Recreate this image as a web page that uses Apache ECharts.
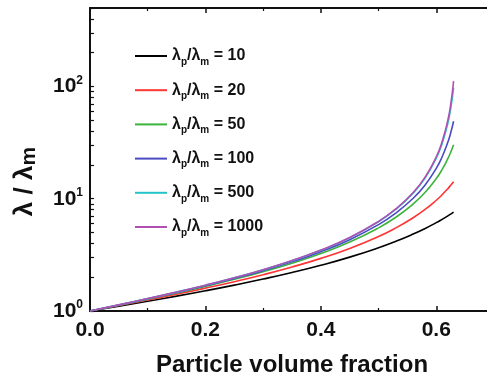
<!DOCTYPE html>
<html>
<head>
<meta charset="utf-8">
<script src="https://cdn.jsdelivr.net/npm/echarts@6/dist/echarts.min.js"></script>
<style>
html,body{margin:0;padding:0;background:#fff;}
#c{width:487px;height:377px;}
</style>
</head>
<body>
<div id="c"></div>
<script>
// Particle volume fraction (x)
var fractions = [0, 0.05, 0.1, 0.15, 0.2, 0.25, 0.3, 0.35, 0.4, 0.45, 0.5, 0.53, 0.56, 0.58, 0.6, 0.61, 0.62, 0.625, 0.63];
// lambda_p / lambda_m ratios (legend)
var ratios = [10, 20, 50, 100, 500, 1000];
// lambda / lambda_m values
var ratio10   = [1, 1.104, 1.222, 1.357, 1.514, 1.701, 1.926, 2.203, 2.556, 3.020, 3.659, 4.175, 4.844, 5.412, 6.122, 6.548, 7.034, 7.303, 7.594];
var ratio20   = [1, 1.118, 1.253, 1.411, 1.598, 1.825, 2.106, 2.465, 2.943, 3.610, 4.613, 5.500, 6.775, 7.986, 9.696, 10.85, 12.29, 13.17, 14.17];
var ratio50   = [1, 1.127, 1.275, 1.449, 1.657, 1.914, 2.239, 2.665, 3.251, 4.111, 5.502, 6.844, 8.985, 11.30, 15.13, 18.18, 22.73, 25.97, 30.26];
var ratio100  = [1, 1.131, 1.283, 1.462, 1.679, 1.947, 2.288, 2.741, 3.371, 4.314, 5.886, 7.461, 10.10, 13.13, 18.66, 23.55, 31.86, 38.64, 49.03];
var ratio500  = [1, 1.134, 1.289, 1.473, 1.697, 1.974, 2.330, 2.805, 3.475, 4.494, 6.238, 8.046, 11.22, 15.11, 22.97, 30.90, 47.05, 63.57, 97.78];
var ratio1000 = [1, 1.134, 1.290, 1.475, 1.699, 1.978, 2.335, 2.814, 3.489, 4.517, 6.285, 8.126, 11.38, 15.40, 23.65, 32.16, 50.04, 69.16, 111.7];
var seriesValues = [ratio10, ratio20, ratio50, ratio100, ratio500, ratio1000];
var colors = ['#000000', '#ff3434', '#3cb43c', '#4a4ac4', '#22c4c8', '#b050b4'];
// axis ticks
var xTicks = [0, 0.2, 0.4, 0.6];
var yDecades = [1, 10, 100];
var yTickValues = [1,2,3,4,5,6,7,8,9,10,20,30,40,50,60,70,80,90,100,200,300,400,500];
var xName = 'Particle volume fraction';

var FONT = '"Liberation Sans", Arial, sans-serif';
var chart = echarts.init(document.getElementById('c'), null, {renderer: 'canvas'});

var series = ratios.map(function (r, i) {
  return {
    name: 'λp/λm = ' + r,
    type: 'line',
    symbol: 'none',
    smooth: true,
    color: colors[i],
    lineStyle: {width: 1.6, color: colors[i]},
    data: fractions.map(function (f, j) { return [f, seriesValues[i][j]]; }),
    z: 2 + i
  };
});

var option = {
  backgroundColor: '#ffffff',
  animation: false,
  grid: {left: 90, top: 8, right: -7, bottom: 66, outerBoundsMode: 'none', containLabel: false},
  legend: {
    orient: 'vertical',
    left: 135,
    top: 48,
    padding: 0,
    icon: 'path://M0 0H32V2H0Z',
    itemWidth: 32,
    itemHeight: 2,
    itemGap: 15.2,
    data: series.map(function (s) { return s.name; }),
    formatter: function (name) {
      var v = name.split('= ')[1];
      return '{t|λ}{s|p}{t|/λ}{s|m}{t| = ' + v + '}';
    },
    textStyle: {
      fontFamily: FONT,
      fontWeight: 'bold',
      color: '#111',
      padding: [0, 0, 0, 0],
      rich: {
        t: {fontFamily: FONT, fontWeight: 'bold', fontSize: 16, color: '#111', lineHeight: 22, verticalAlign: 'middle'},
        s: {fontFamily: FONT, fontWeight: 'bold', fontSize: 10, color: '#111', lineHeight: 10, verticalAlign: 'bottom'}
      }
    }
  },
  xAxis: [{
    type: 'value',
    min: 0,
    max: 0.7,
    interval: 0.2,
    name: xName,
    nameLocation: 'middle',
    nameGap: 42,
    nameTextStyle: {fontFamily: FONT, fontWeight: 'bold', fontSize: 24, color: '#111'},
    axisLine: {lineStyle: {color: '#111', width: 2}},
    axisTick: {inside: true, length: 5, lineStyle: {color: '#111', width: 1.5}, customValues: xTicks},
    minorTick: {show: true, splitNumber: 2, length: 3, lineStyle: {color: '#111', width: 1.2}},
    splitLine: {show: false},
    minorSplitLine: {show: false},
    axisLabel: {
      customValues: xTicks,
      margin: 9,
      fontFamily: FONT, fontWeight: 'bold', fontSize: 21, color: '#111',
      formatter: function (v) { return v.toFixed(1); }
    }
  }, {
    type: 'value',
    position: 'top',
    min: 0,
    max: 0.7,
    interval: 0.2,
    axisLine: {lineStyle: {color: '#111', width: 2}},
    axisTick: {inside: true, length: 5, lineStyle: {color: '#111', width: 1.5}, customValues: xTicks},
    minorTick: {show: true, splitNumber: 2, length: 3, lineStyle: {color: '#111', width: 1.2}},
    splitLine: {show: false},
    axisLabel: {show: false}
  }],
  yAxis: [{
    type: 'log',
    logBase: 10,
    min: 1,
    max: 500,
    name: '{a|λ / λ}{m|m}',
    nameLocation: 'middle',
    nameRotate: 90,
    nameGap: 50,
    nameTextStyle: {
      fontFamily: FONT, fontWeight: 'bold', fontSize: 26, color: '#111',
      padding: [0, 44, 0, 0],
      rich: {
        a: {fontFamily: FONT, fontWeight: 'bold', fontSize: 26, color: '#111', lineHeight: 30, verticalAlign: 'middle'},
        m: {fontFamily: FONT, fontWeight: 'bold', fontSize: 21, color: '#111', lineHeight: 21, verticalAlign: 'bottom'}
      }
    },
    axisLine: {lineStyle: {color: '#111', width: 2}},
    axisTick: {inside: true, length: 4, lineStyle: {color: '#111', width: 1.2}, customValues: yTickValues},
    splitLine: {show: false},
    axisLabel: {
      customValues: yDecades,
      margin: 7,
      formatter: function (v) {
        var e = Math.round(Math.log10(v));
        return '{b|10}{p|' + e + '}';
      },
      rich: {
        b: {fontFamily: FONT, fontWeight: 'bold', fontSize: 21, color: '#111', lineHeight: 24, verticalAlign: 'middle'},
        p: {fontFamily: FONT, fontWeight: 'bold', fontSize: 12, color: '#111', lineHeight: 12, verticalAlign: 'top'}
      }
    }
  }],
  series: series
};
chart.setOption(option);
</script>
</body>
</html>
